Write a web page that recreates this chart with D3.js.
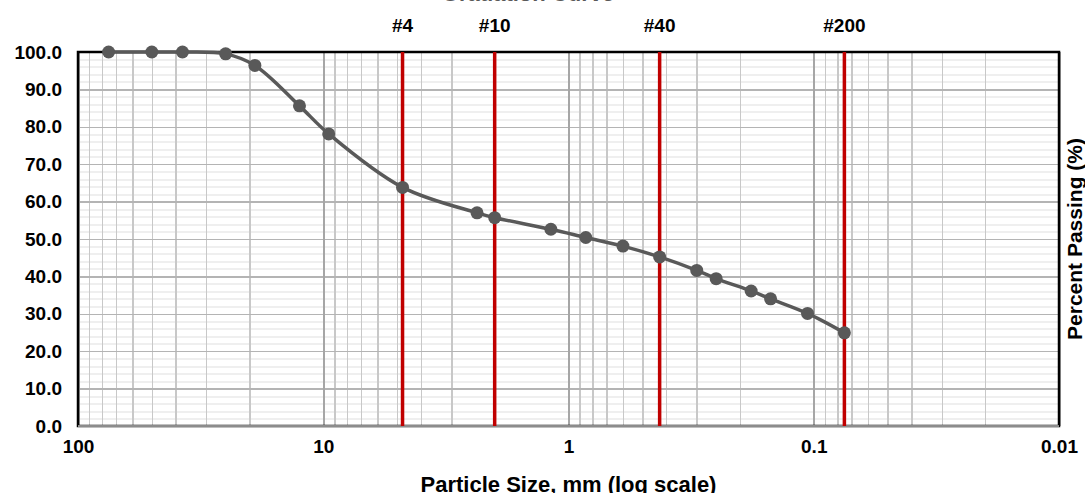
<!DOCTYPE html>
<meta charset="utf-8">

<head>
    <title>Gradation</title>
</head>

<style>
    body {
        margin: 0;
        background-color: #ffffff;
        font-family: "Liberation Sans", Arial;
    }

    .grid line {
        shape-rendering: crispEdges;
    }

    .grid path {
        display: none;
    }

    .ticks path,
    .ticks line {
        display: none;
    }

    .ticks text {
        font-family: "Liberation Sans", Arial;
        font-size: 19px;
        font-weight: 700;
        fill: #000000;
    }
</style>

<body>
    <svg width="1085" height="493"></svg>
</body>

<script src="https://d3js.org/d3.v7.min.js"></script>

<script>
    // sieve analysis results
    var sizes = [75, 50, 37.5, 25, 19, 12.5, 9.5, 4.75, 2.36, 2.0, 1.18, 0.85, 0.6, 0.425, 0.3, 0.25, 0.18, 0.15, 0.106, 0.075];
    var passing = [100, 100, 100, 99.5, 96.4, 85.6, 78.1, 63.8, 57.0, 55.7, 52.6, 50.4, 48.1, 45.2, 41.6, 39.4, 36.1, 34.0, 30.1, 24.9];

    // reference sieves
    var sieveNames = ["#4", "#10", "#40", "#200"];
    var sieveSizes = [4.75, 2.0, 0.425, 0.075];

    // axis ticks
    var xTicks = [100, 10, 1, 0.1, 0.01];
    var yTicks = [0, 10, 20, 30, 40, 50, 60, 70, 80, 90, 100];

    var svg = d3.select("svg"),
        margin = {
            top: 52,
            right: 26,
            bottom: 67,
            left: 78
        },
        width = +svg.attr("width") - margin.left - margin.right,
        height = +svg.attr("height") - margin.top - margin.bottom;

    var data = sizes.map(function (s, i) {
        return { size: s, pass: passing[i] };
    });

    var x = d3.scaleLog()
        .domain([100, 0.01])
        .range([margin.left, margin.left + width]);

    var y = d3.scaleLinear()
        .domain([0, 100])
        .range([margin.top + height, margin.top]);

    // minor log values 2..9 in each decade
    var minorX = [];
    [0.01, 0.1, 1, 10].forEach(function (dec) {
        for (var k = 2; k <= 9; k++) minorX.push(dec * k);
    });
    var minorY = d3.range(0, 101, 2).filter(function (v) { return v % 10 != 0; });

    // title (mostly above the frame, only its foot shows)
    svg.append("text")
        .attr("x", 528)
        .attr("y", 1)
        .attr("text-anchor", "middle")
        .style("font-size", "22px")
        .style("font-weight", 700)
        .style("fill", "#595959")
        .text("Gradation Curve");

    // horizontal minor grid
    svg.append("g")
        .attr("class", "grid")
        .attr("transform", "translate(" + margin.left + ",0)")
        .call(d3.axisLeft(y).tickValues(minorY).tickSize(-width).tickFormat(""))
        .selectAll("line")
        .attr("stroke", "#efefef")
        .attr("stroke-width", 2);

    // vertical minor grid
    svg.append("g")
        .attr("class", "grid")
        .attr("transform", "translate(0," + (margin.top + height) + ")")
        .call(d3.axisBottom(x).tickValues(minorX).tickSize(-height).tickFormat(""))
        .selectAll("line")
        .attr("stroke", "#c8c8c8")
        .attr("stroke-width", 1.5);

    // horizontal major grid
    svg.append("g")
        .attr("class", "grid")
        .attr("transform", "translate(" + margin.left + ",0)")
        .call(d3.axisLeft(y).tickValues(yTicks).tickSize(-width).tickFormat(""))
        .selectAll("line")
        .attr("stroke", "#b4b4b4")
        .attr("stroke-width", 1.5);

    // vertical decade grid
    svg.append("g")
        .attr("class", "grid")
        .attr("transform", "translate(0," + (margin.top + height) + ")")
        .call(d3.axisBottom(x).tickValues(xTicks).tickSize(-height).tickFormat(""))
        .selectAll("line")
        .attr("stroke", "#a6a6a6")
        .attr("stroke-width", 2);

    // frame
    svg.append("rect")
        .attr("x", margin.left)
        .attr("y", margin.top)
        .attr("width", width)
        .attr("height", height)
        .attr("fill", "none")
        .attr("stroke", "#000000")
        .attr("stroke-width", 2.5);

    svg.append("line")
        .attr("x1", margin.left)
        .attr("x2", margin.left + width)
        .attr("y1", y(0))
        .attr("y2", y(0))
        .attr("stroke", "#8c8c8c")
        .attr("stroke-width", 2);

    // sieve lines
    svg.selectAll(".sieve")
        .data(sieveSizes)
        .enter()
        .append("line")
        .attr("class", "sieve")
        .attr("x1", function (d) { return x(d); })
        .attr("x2", function (d) { return x(d); })
        .attr("y1", margin.top)
        .attr("y2", margin.top + height)
        .attr("stroke", "#c00000")
        .attr("stroke-width", 3.5);

    svg.selectAll(".sieveLabel")
        .data(sieveSizes)
        .enter()
        .append("text")
        .attr("class", "sieveLabel")
        .attr("x", function (d) { return x(d); })
        .attr("y", 32)
        .attr("text-anchor", "middle")
        .style("font-size", "19px")
        .style("font-weight", 700)
        .text(function (d, i) { return sieveNames[i]; });

    // tick labels
    svg.append("g")
        .attr("class", "ticks")
        .attr("transform", "translate(0," + (margin.top + height) + ")")
        .call(d3.axisBottom(x).tickValues(xTicks).tickSize(0).tickPadding(14)
            .tickFormat(function (d) { return String(d); }));

    svg.append("g")
        .attr("class", "ticks")
        .attr("transform", "translate(" + margin.left + ",0)")
        .call(d3.axisLeft(y).tickValues(yTicks).tickSize(0).tickPadding(16)
            .tickFormat(d3.format(".1f")));

    // gradation curve
    var line = d3.line()
        .x(function (d) { return x(d.size); })
        .y(function (d) { return y(d.pass); })
        .curve(d3.curveCatmullRom.alpha(0.5));

    svg.append("path")
        .datum(data)
        .attr("d", line)
        .attr("fill", "none")
        .attr("stroke", "#595959")
        .attr("stroke-width", 3.5);

    svg.selectAll(".dot")
        .data(data)
        .enter()
        .append("circle")
        .attr("class", "dot")
        .attr("cx", function (d) { return x(d.size); })
        .attr("cy", function (d) { return y(d.pass); })
        .attr("r", 6.5)
        .attr("fill", "#595959");

    // axis titles
    svg.append("text")
        .attr("x", x(1))
        .attr("y", 492)
        .attr("text-anchor", "middle")
        .style("font-size", "22px")
        .style("font-weight", 700)
        .text("Particle Size, mm (log scale)");

    svg.append("text")
        .attr("transform", "translate(1082," + y(50) + ") rotate(-90)")
        .attr("text-anchor", "middle")
        .style("font-size", "21px")
        .style("font-weight", 700)
        .text("Percent Passing (%)");
</script>
